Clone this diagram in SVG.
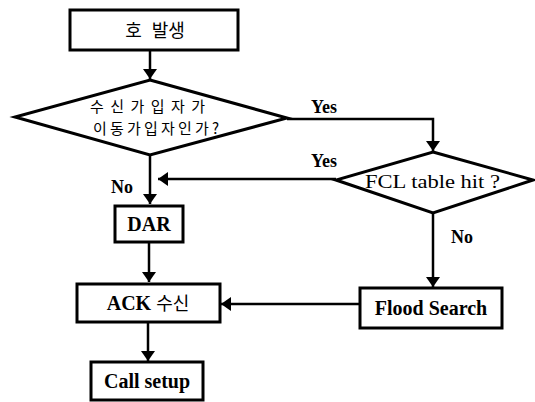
<svg xmlns="http://www.w3.org/2000/svg" width="535" height="402" viewBox="0 0 535 402">
<style>
.box{fill:#fff;stroke:#000;stroke-width:3}
.dia{fill:#fff;stroke:#000;stroke-width:3;stroke-linejoin:miter}
.ln{fill:none;stroke:#000;stroke-width:2.5}
.en{font-family:"Liberation Serif","Times New Roman",serif;font-weight:bold;font-size:20px;fill:#000}
.ko{font-family:"Noto Sans CJK KR","Noto Sans",sans-serif;font-weight:normal;font-size:17px;fill:#000}
.lab{font-family:"Liberation Serif","Times New Roman",serif;font-weight:bold;font-size:18px;fill:#000}
.q{font-family:"Liberation Serif","Times New Roman",serif;font-weight:normal;font-size:19px;fill:#000}
</style>
<defs>
<marker id="ah" markerWidth="10" markerHeight="14" refX="10" refY="7" orient="auto" markerUnits="userSpaceOnUse">
<path d="M0,0 L10,7 L0,14 Z" fill="#000"/>
</marker>
</defs>
<g id="connectors">
<line class="ln" x1="150" y1="50" x2="150" y2="79" marker-end="url(#ah)"/>
<polyline class="ln" points="287,119 433,119 433,151" marker-end="url(#ah)"/>
<line class="ln" x1="150" y1="155" x2="150" y2="204" marker-end="url(#ah)"/>
<line class="ln" x1="336" y1="179" x2="158" y2="179" marker-end="url(#ah)"/>
<line class="ln" x1="433" y1="213" x2="433" y2="287" marker-end="url(#ah)"/>
<line class="ln" x1="149" y1="242" x2="149" y2="282" marker-end="url(#ah)"/>
<line class="ln" x1="360" y1="304" x2="221" y2="304" marker-end="url(#ah)"/>
<line class="ln" x1="148" y1="322" x2="148" y2="361" marker-end="url(#ah)"/>
<text class="lab" x="311" y="113">Yes</text>
<text class="lab" x="311" y="167">Yes</text>
<text class="lab" x="111" y="193">No</text>
<text class="lab" x="451" y="243">No</text>
</g>
<g id="start">
<rect class="box" x="70" y="10" width="168" height="40"/>
<text class="ko" x="155" y="37" text-anchor="middle" word-spacing="6" style="font-size:18px">호 발생</text>
</g>
<g id="decision1">
<polygon class="dia" points="150,80 287,118 150,155 15,117"/>
<text class="ko" x="90" y="112" textLength="115" lengthAdjust="spacing" style="font-size:15px">수신가입자가</text>
<text class="ko" x="93" y="134" textLength="126" lengthAdjust="spacing" style="font-size:15px">이동가입자인가?</text>
</g>
<g id="decision2">
<polygon class="dia" points="433,152 533,180 433,213 336,180"/>
<text class="q" x="365" y="188" textLength="135" lengthAdjust="spacingAndGlyphs">FCL table hit ?</text>
</g>
<g id="dar">
<rect class="box" x="115" y="206" width="68" height="36"/>
<text class="en" x="149" y="231" text-anchor="middle">DAR</text>
</g>
<g id="ack">
<rect class="box" x="77" y="284" width="143" height="38"/>
<text class="en" x="148" y="310" text-anchor="middle">ACK <tspan class="ko" style="font-size:18px">수신</tspan></text>
</g>
<g id="flood">
<rect class="box" x="360" y="288" width="142" height="40"/>
<text class="en" x="431" y="315" text-anchor="middle">Flood Search</text>
</g>
<g id="callsetup">
<rect class="box" x="91" y="362" width="112" height="38"/>
<text class="en" x="147" y="388" text-anchor="middle">Call setup</text>
</g>
</svg>
